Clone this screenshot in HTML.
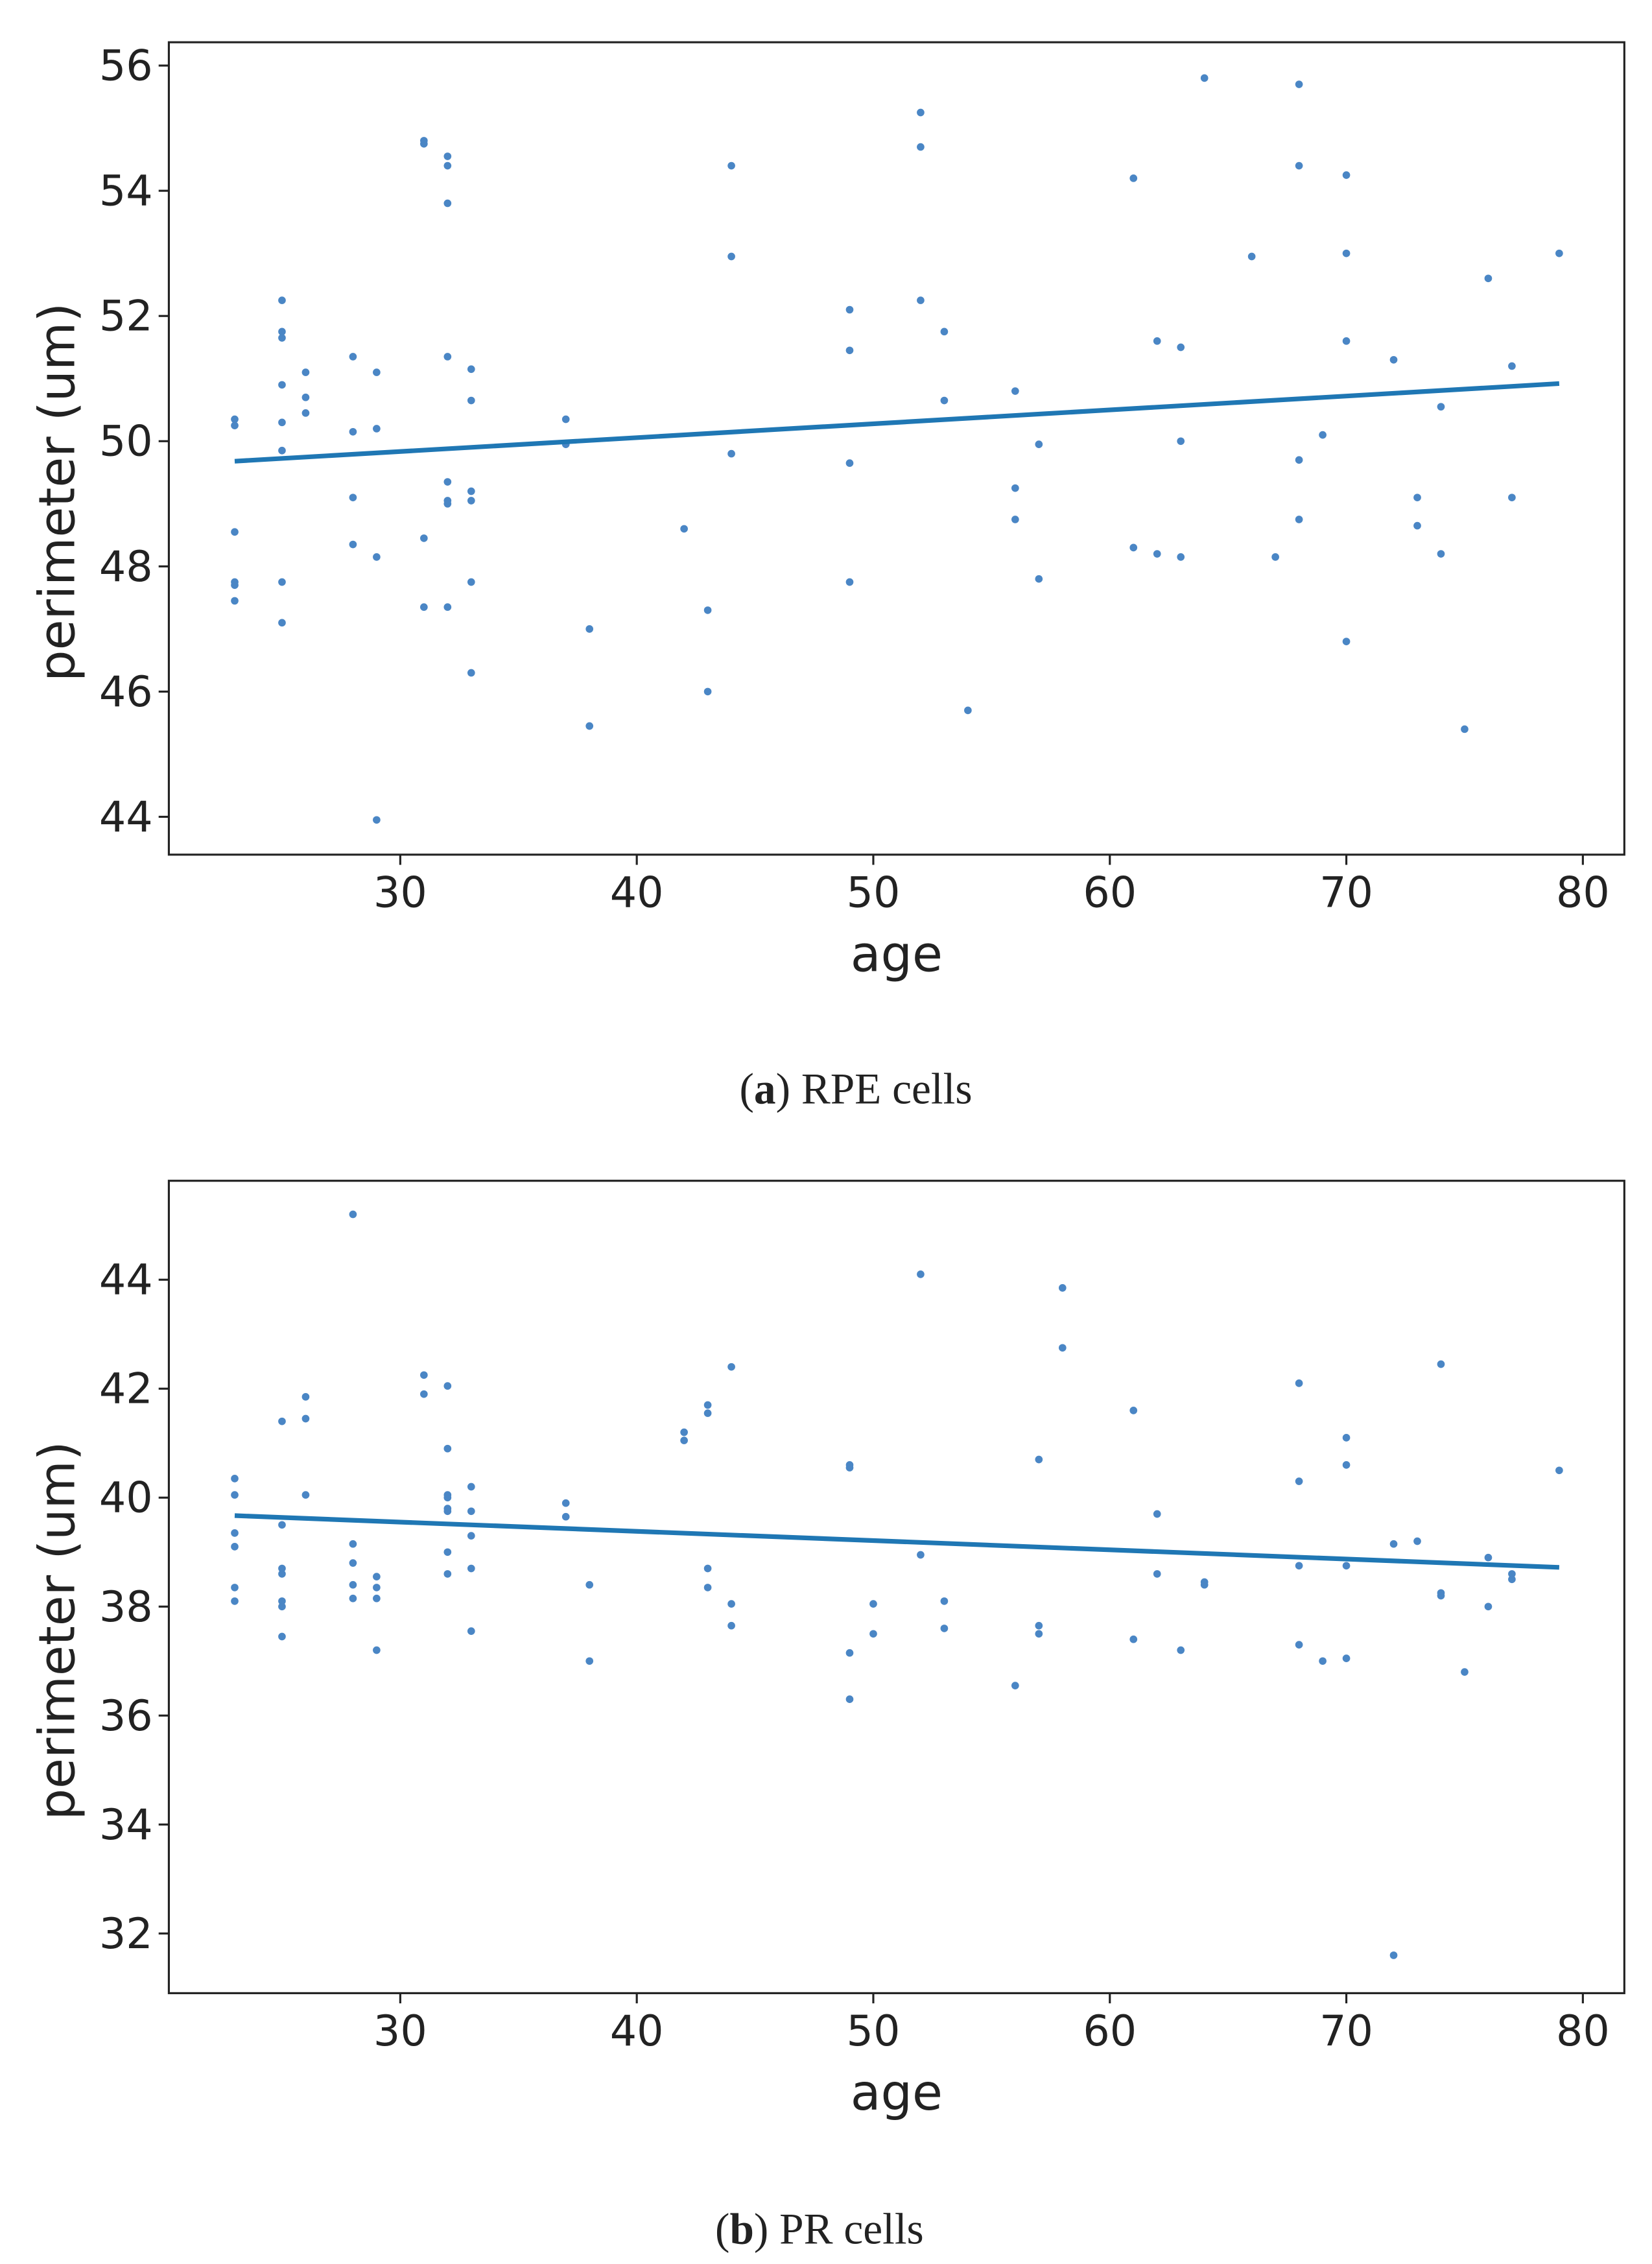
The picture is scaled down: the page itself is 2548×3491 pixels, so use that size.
<!DOCTYPE html>
<html><head><meta charset="utf-8"><style>
html,body{margin:0;padding:0;background:#fff;}
svg{display:block;}
</style></head><body>
<svg id="fig" width="2548" height="3491" viewBox="0 0 1135 1555" xmlns="http://www.w3.org/2000/svg">
<text x="588" y="758" text-anchor="middle" font-family="Liberation Serif, serif" font-size="30" fill="#222">(<tspan font-weight="bold">a</tspan>) RPE cells</text>
<text x="563" y="1541" text-anchor="middle" font-family="Liberation Serif, serif" font-size="30" fill="#222">(<tspan font-weight="bold">b</tspan>) PR cells</text>
</svg>
<script>
const NS='http://www.w3.org/2000/svg';
const svg=document.getElementById('fig');
const xTicks=[30,40,50,60,70,80];
const yTicksA=[44,46,48,50,52,54,56];
const yTicksB=[32,34,36,38,40,42,44];
const agesA=[23,23,23,23,23,23,25,25,25,25,25,25,25,25,26,26,26,28,28,28,28,29,29,29,29,31,31,31,31,32,32,32,32,32,32,32,32,33,33,33,33,33,33,37,37,38,38,42,43,43,44,44,44,49,49,49,49,52,52,52,53,53,54,56,56,56,57,57,61,61,62,62,63,63,63,64,66,67,68,68,68,68,69,70,70,70,70,72,73,73,74,74,75,76,77,77,79];
const valsA=[50.35,50.25,48.55,47.75,47.7,47.45,52.25,51.75,51.65,50.9,50.3,49.85,47.75,47.1,51.1,50.7,50.45,51.35,50.15,49.1,48.35,51.1,50.2,48.15,43.95,54.8,54.75,48.45,47.35,54.55,54.4,53.8,51.35,49.35,49.05,49.0,47.35,51.15,50.65,49.2,49.05,47.75,46.3,50.35,49.95,47.0,45.45,48.6,47.3,46.0,54.4,52.95,49.8,52.1,51.45,49.65,47.75,55.25,54.7,52.25,51.75,50.65,45.7,50.8,49.25,48.75,49.95,47.8,54.2,48.3,51.6,48.2,51.5,50.0,48.15,55.8,52.95,48.15,55.7,54.4,49.7,48.75,50.1,54.25,53.0,51.6,46.8,51.3,49.1,48.65,50.55,48.2,45.4,52.6,51.2,49.1,53.0];
const fitA=[49.68,50.92];
const agesB=[23,23,23,23,23,23,25,25,25,25,25,25,25,26,26,26,28,28,28,28,28,29,29,29,29,31,31,32,32,32,32,32,32,32,32,33,33,33,33,33,37,37,38,38,42,42,43,43,43,43,44,44,44,49,49,49,49,50,50,52,52,53,53,56,57,57,57,58,58,61,61,62,62,63,64,64,68,68,68,68,69,70,70,70,70,72,72,73,74,74,74,75,76,76,77,77,79];
const valsB=[40.35,40.05,39.35,39.1,38.35,38.1,41.4,39.5,38.7,38.6,38.1,38.0,37.45,41.85,41.45,40.05,45.2,39.15,38.8,38.4,38.15,38.55,38.35,38.15,37.2,42.25,41.9,42.05,40.9,40.05,40.0,39.8,39.75,39.0,38.6,40.2,39.75,39.3,38.7,37.55,39.9,39.65,38.4,37.0,41.2,41.05,41.7,41.55,38.7,38.35,42.4,38.05,37.65,40.6,40.55,37.15,36.3,38.05,37.5,44.1,38.95,38.1,37.6,36.55,40.7,37.65,37.5,43.85,42.75,41.6,37.4,39.7,38.6,37.2,38.45,38.4,42.1,40.3,38.75,37.3,37.0,41.1,40.6,38.75,37.05,39.15,31.6,39.2,42.45,38.25,38.2,36.8,38.9,38.0,38.6,38.5,40.5];
const fitB=[39.67,38.72];
const fitX=[23,79];

function el(tag,attrs,parent){const e=document.createElementNS(NS,tag);for(const k in attrs)e.setAttribute(k,attrs[k]);(parent||svg).appendChild(e);return e;}

function panel(id,top,yPix0,yVal0,yPerUnit,yTicks,ages,vals,fit){
  const L=116,R=1116,T=top,B=top+558;
  const xs=v=>275+(v-30)*16.25;
  const ys=v=>yPix0-(v-yVal0)*yPerUnit;
  const g=el('g',{});
  
  
  const pts=el('g',{},g);
  
  
  for(let i=0;i<ages.length;i++){
    const c=el('circle',{cx:xs(ages[i]),cy:ys(vals[i]),r:2.6,fill:'#4a86c5'},pts);
    
    
  }
  const ln=el('line',{x1:xs(fitX[0]),y1:ys(fit[0]),x2:xs(fitX[1]),y2:ys(fit[1]),stroke:'#1f77b4','stroke-width':3.2},g);
  
  
  const fr=el('rect',{x:L,y:T,width:R-L,height:B-T,fill:'none',stroke:'#222','stroke-width':1.4},g);
  
  
  xTicks.forEach(t=>{
    el('line',{x1:xs(t),y1:B,x2:xs(t),y2:B+7,stroke:'#222','stroke-width':1.4},g);
    const tx=el('text',{x:xs(t),y:B+36,'text-anchor':'middle','font-family':'DejaVu Sans, sans-serif','font-size':29,fill:'#222'},g);
    tx.textContent=t;
    
    
  });
  yTicks.forEach(t=>{
    el('line',{x1:L-7,y1:ys(t),x2:L,y2:ys(t),stroke:'#222','stroke-width':1.4},g);
    const tx=el('text',{x:L-11,y:ys(t)+10,'text-anchor':'end','font-family':'DejaVu Sans, sans-serif','font-size':29,fill:'#222'},g);
    tx.textContent=t;
    
    
  });
  const xl=el('text',{x:616,y:B+80,'text-anchor':'middle','font-family':'DejaVu Sans, sans-serif','font-size':34,fill:'#222'},g);
  xl.textContent='age';
  
  
  const cy=(T+B)/2+30;
  const yl=el('text',{x:0,y:0,transform:`translate(51,${cy}) rotate(-90)`,'text-anchor':'middle','font-family':'DejaVu Sans, sans-serif','font-size':34,fill:'#222'},g);
  yl.textContent='perimeter (um)';
  
  
}
panel('rpe',29,561,44,43.0,yTicksA,agesA,valsA,fitA);
panel('pr',811,1328,32,37.42,yTicksB,agesB,valsB,fitB);
</script>
</body></html>
